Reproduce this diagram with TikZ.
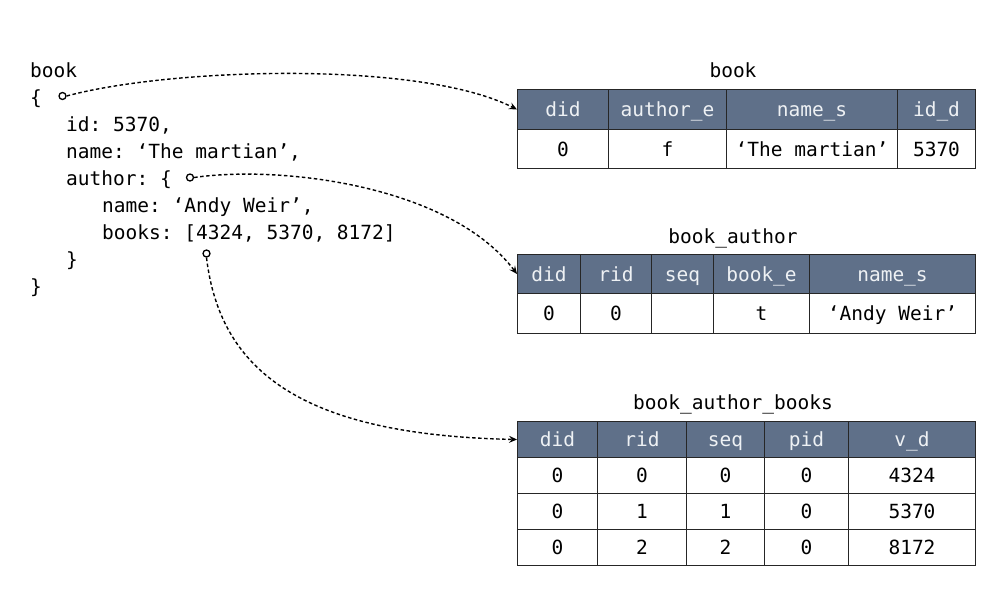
\documentclass[tikz,border=0pt]{standalone}
\usepackage{fontspec}
\setmonofont{DejaVu Sans Mono}
\usetikzlibrary{arrows.meta}
\definecolor{hdrblue}{HTML}{5F7089}
\definecolor{hdrtext}{HTML}{EEF1F4}
\tikzstyle{code}=[anchor=base west, inner sep=0pt,
    font=\ttfamily\fontsize{19.5}{24}\selectfont]
\tikzstyle{title}=[code, anchor=base]
\tikzstyle{cell}=[draw=black!85, line width=1pt, inner sep=0pt,
    anchor=north west, text height=14.2pt, text depth=0pt,
    font=\ttfamily\fontsize{19.5}{24}\selectfont]
\tikzstyle{hdr}=[cell, fill=hdrblue, text=hdrtext]
\tikzstyle{hole}=[circle, draw, line width=1.3pt, fill=white,
    inner sep=0pt, minimum size=7pt]
\tikzstyle{link}=[line width=1.4pt, dash pattern=on 3.5pt off 2.5pt,
    -{Stealth[length=8pt, width=7pt, inset=3pt]}]

\begin{document}
\begin{tikzpicture}[x=1pt, y=-1pt]
    \useasboundingbox (0,0) rectangle (1001,603);
    % document
    \node (l1) [code] at (30,77.7) {book};
    \node (l2) [code] at (30,104.7) {\{};
    \node (l3) [code] at (66,131.7) {id: 5370,};
    \node (l4) [code] at (66,158.7) {name: ‘The martian’,};
    \node (l5) [code] at (66,185.7) {author: \{};
    \node (l6) [code] at (102,212.7) {name: ‘Andy Weir’,};
    \node (l7) [code] at (102,239.7) {books: [4324, 5370, 8172]};
    \node (l8) [code] at (66,266.7) {\}};
    \node (l9) [code] at (30,293.7) {\}};
    \node (c-book) [hole] at (62.5,96) {};
    \node (c-author) [hole] at (190,177.5) {};
    \node (c-books) [hole] at (206.5,253.5) {};
    % table book
    \node (t-book) [title] at (733,77.7) {book};
    \foreach \l/\r/\h/\v [count=\i] in {517/608/did/0, 608/726/author\_e/f,
        726/897/name\_s/‘The martian’, 897/975/id\_d/5370}
    {
        \node (bk-h\i) [hdr, minimum width={(\r-\l)*1pt}, minimum height=40pt]
            at (\l,89) {\h};
        \node (bk-d\i) [cell, minimum width={(\r-\l)*1pt}, minimum height=39pt]
            at (\l,129) {\v};
    }
    % table book_author
    \node (t-author) [title] at (733,243.7) {book\_author};
    \foreach \l/\r/\h/\v [count=\i] in {517/580/did/0, 580/651/rid/0,
        651/713/seq/, 713/809/book\_e/t, 809/975/name\_s/‘Andy Weir’}
    {
        \node (au-h\i) [hdr, minimum width={(\r-\l)*1pt}, minimum height=39pt]
            at (\l,254) {\h};
        \node (au-d\i) [cell, minimum width={(\r-\l)*1pt}, minimum height=40pt]
            at (\l,293) {\v};
    }
    % table book_author_books
    \node (t-books) [title] at (733,409.7) {book\_author\_books};
    \foreach \l/\r/\h/\a/\b/\c [count=\i] in {517/597/did/0/0/0,
        597/686/rid/0/1/2, 686/764/seq/0/1/2, 764/848/pid/0/0/0,
        848/975/v\_d/4324/5370/8172}
    {
        \node (bs-h\i) [hdr, minimum width={(\r-\l)*1pt}, minimum height=36pt]
            at (\l,421) {\h};
        \node (bs-a\i) [cell, minimum width={(\r-\l)*1pt}, minimum height=36pt]
            at (\l,457) {\a};
        \node (bs-b\i) [cell, minimum width={(\r-\l)*1pt}, minimum height=36pt]
            at (\l,493) {\b};
        \node (bs-c\i) [cell, minimum width={(\r-\l)*1pt}, minimum height=36pt]
            at (\l,529) {\c};
    }
    % links
    \draw [link] (c-book.east) .. controls (170,68) and (420,60) .. (bk-h1.west);
    \draw [link] (c-author.east) .. controls (280,165) and (450,185) .. (au-h1.west);
    \draw [link] (c-books.south) .. controls (220,370) and (300,435) .. (bs-h1.west);
\end{tikzpicture}
\end{document}
